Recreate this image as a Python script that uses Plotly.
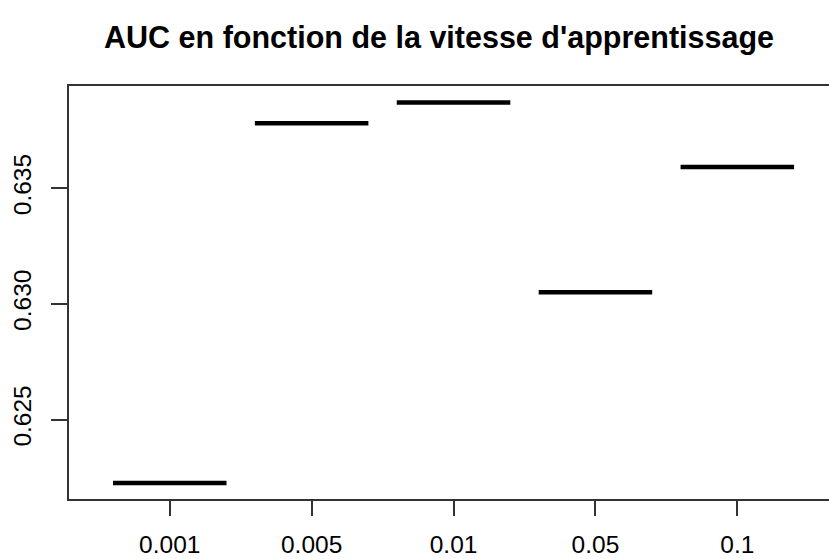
import plotly.graph_objects as go

# Learning-rate levels and the AUC obtained for each
learning_rates = ["0.001", "0.005", "0.01", "0.05", "0.1"]
auc_values = [0.62226, 0.63781, 0.63871, 0.63051, 0.63592]

y_ticks = [0.625, 0.630, 0.635]
y_tick_labels = ["0.625", "0.630", "0.635"]

half_width = 0.4  # half of the box width in category units

# One horizontal segment per level (single-value boxplot -> median line only)
seg_x, seg_y = [], []
for i, v in enumerate(auc_values, start=1):
    seg_x += [i - half_width, i + half_width, None]
    seg_y += [v, v, None]

fig = go.Figure()
fig.add_trace(go.Scatter(
    x=seg_x, y=seg_y, mode="lines",
    line=dict(color="black", width=4.5),
    hoverinfo="skip", showlegend=False,
))

axis_font = dict(family="Liberation Sans, Arial, sans-serif", size=24.5, color="black")

fig.update_layout(
    width=829, height=559,
    margin=dict(l=69, r=0, t=86, b=60),
    paper_bgcolor="white", plot_bgcolor="white",
    title=dict(
        text="<b>AUC en fonction de la vitesse d'apprentissage</b>",
        font=dict(family="Liberation Sans, Arial, sans-serif", size=30.5, color="black"),
        x=0.5296, xref="container", xanchor="center",
        y=1 - 37 / 559, yref="container", yanchor="middle",
    ),
    xaxis=dict(
        range=[0.29, 5.646],
        tickmode="array",
        tickvals=list(range(1, len(learning_rates) + 1)),
        ticktext=learning_rates,
        ticks="outside", ticklen=15, tickwidth=1.5, tickcolor="#333",
        showline=True, linecolor="#333", linewidth=1.5, mirror=True,
        showgrid=False, zeroline=False, automargin=False,
        tickfont=axis_font, ticklabelstandoff=8,
    ),
    yaxis=dict(
        range=[0.62157, 0.63942],
        tickmode="array", tickvals=y_ticks, ticktext=y_tick_labels,
        tickangle=-90,
        ticks="outside", ticklen=16, tickwidth=1.5, tickcolor="#333",
        showline=True, linecolor="#333", linewidth=1.5,
        showgrid=False, zeroline=False, automargin=False,
        tickfont=axis_font, ticklabelstandoff=10,
    ),
)

fig.write_html("out.html")
